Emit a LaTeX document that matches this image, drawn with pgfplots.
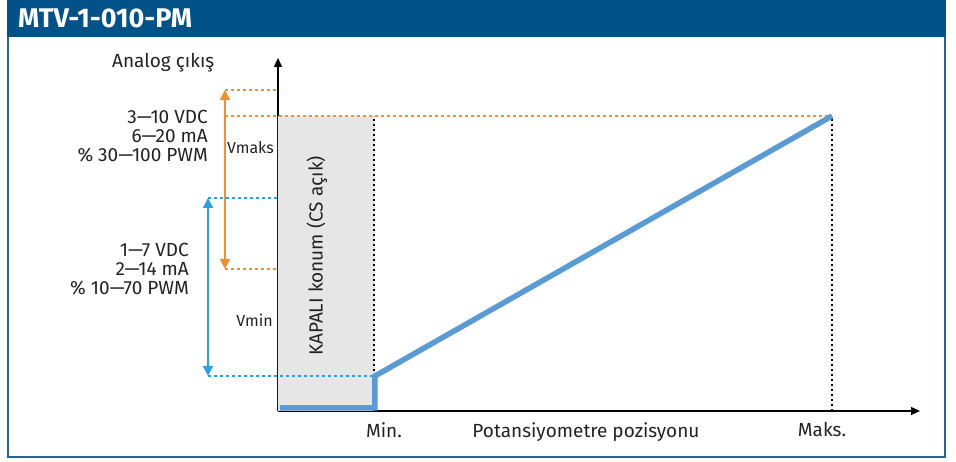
\documentclass[border=0pt]{standalone}
\usepackage{pgfplots}
\pgfplotsset{compat=1.18}
\usepackage{fontspec}
\setmainfont{Fira Sans}
\usetikzlibrary{arrows.meta}
\definecolor{hdr}{RGB}{0,82,136}
\definecolor{frm}{RGB}{40,100,145}
\definecolor{orng}{RGB}{240,143,44}
\definecolor{cyanb}{RGB}{41,163,224}
\definecolor{lineb}{RGB}{91,155,213}
\definecolor{greyf}{RGB}{230,230,230}
\definecolor{txt}{RGB}{34,34,34}
\tikzset{lbl/.style={text=txt, font=\fontsize{19}{22}\selectfont, inner sep=0pt},
         sml/.style={text=txt, font=\fontsize{16}{19}\selectfont, inner sep=0pt}}
\begin{document}
\begin{tikzpicture}
\begin{axis}[
  x=1pt, y=1pt,
  xmin=0, xmax=642, ymin=0, ymax=353,
  axis lines=left,
  axis line style={line width=1.4pt, -{Triangle[length=9pt,width=8pt]}},
  xtick=\empty, ytick=\empty,
  clip=false,
]
% page box, frame and header
\path (axis cs:-278,-51) rectangle (axis cs:678,411);
\draw[frm, line width=1.5pt] (axis cs:-270,374) -- (axis cs:-270,-46) -- (axis cs:667,-46) -- (axis cs:667,374);
\fill[hdr] (axis cs:-271,374) rectangle (axis cs:668,411);
\node[anchor=base west, inner sep=0pt, text=white, font=\fontsize{27}{32}\selectfont\bfseries] at (axis cs:-260,383) {MTV-1-010-PM};
% closed region
\addplot[draw=none, fill=greyf] coordinates {(0,0) (97,0) (97,295) (0,295)} \closedcycle;
% guide lines
\addplot[orng, line width=1.5pt, dash pattern=on 3pt off 3pt] coordinates {(-53,321) (0,321)};
\addplot[orng, line width=1.5pt, dash pattern=on 3pt off 3pt] coordinates {(-53,295) (554,295)};
\addplot[orng, line width=1.5pt, dash pattern=on 3pt off 3pt] coordinates {(-53,142) (0,142)};
\addplot[cyanb, line width=1.5pt, dash pattern=on 3pt off 3pt] coordinates {(-70,213) (0,213)};
\addplot[cyanb, line width=1.5pt, dash pattern=on 3pt off 3pt] coordinates {(-70,35) (97,35)};
\addplot[black, line width=1.5pt, dash pattern=on 2pt off 3pt] coordinates {(96,0) (96,295)};
\addplot[black, line width=1.5pt, dash pattern=on 2pt off 3pt] coordinates {(554,0) (554,295)};
% range arrows
\addplot[orng, line width=1.5pt, {Triangle[length=10pt,width=10pt]}-{Triangle[length=10pt,width=10pt]}] coordinates {(-53,142) (-53,321)};
\addplot[cyanb, line width=1.5pt, {Triangle[length=10pt,width=10pt]}-{Triangle[length=10pt,width=10pt]}] coordinates {(-70,35) (-70,213)};
% output line
\addplot[lineb, line width=5.5pt, line join=miter] coordinates {(2,3) (97,3) (97,35) (554,295)};
% labels
\node[lbl, anchor=base west] at (axis cs:-166,343) {Analog çıkış};
\node[lbl, anchor=base east] at (axis cs:-70,287) {3—10 VDC};
\node[lbl, anchor=base east] at (axis cs:-70,268) {6—20 mA};
\node[lbl, anchor=base east] at (axis cs:-70,249) {\% 30—100 PWM};
\node[sml, anchor=base east] at (axis cs:-4,257) {Vmaks};
\node[lbl, anchor=base east] at (axis cs:-89,154) {1—7 VDC};
\node[lbl, anchor=base east] at (axis cs:-89,135) {2—14 mA};
\node[lbl, anchor=base east] at (axis cs:-89,116) {\% 10—70 PWM};
\node[sml, anchor=base east] at (axis cs:-5,84) {Vmin};
\node[lbl, rotate=90] at (axis cs:39,155) {KAPALI konum (CS açık)};
\node[lbl, anchor=base] at (axis cs:106,-27) {Min.};
\node[lbl, anchor=base] at (axis cs:308,-27) {Potansiyometre pozisyonu};
\node[lbl, anchor=base] at (axis cs:544,-26) {Maks.};
\end{axis}
\end{tikzpicture}
\end{document}
